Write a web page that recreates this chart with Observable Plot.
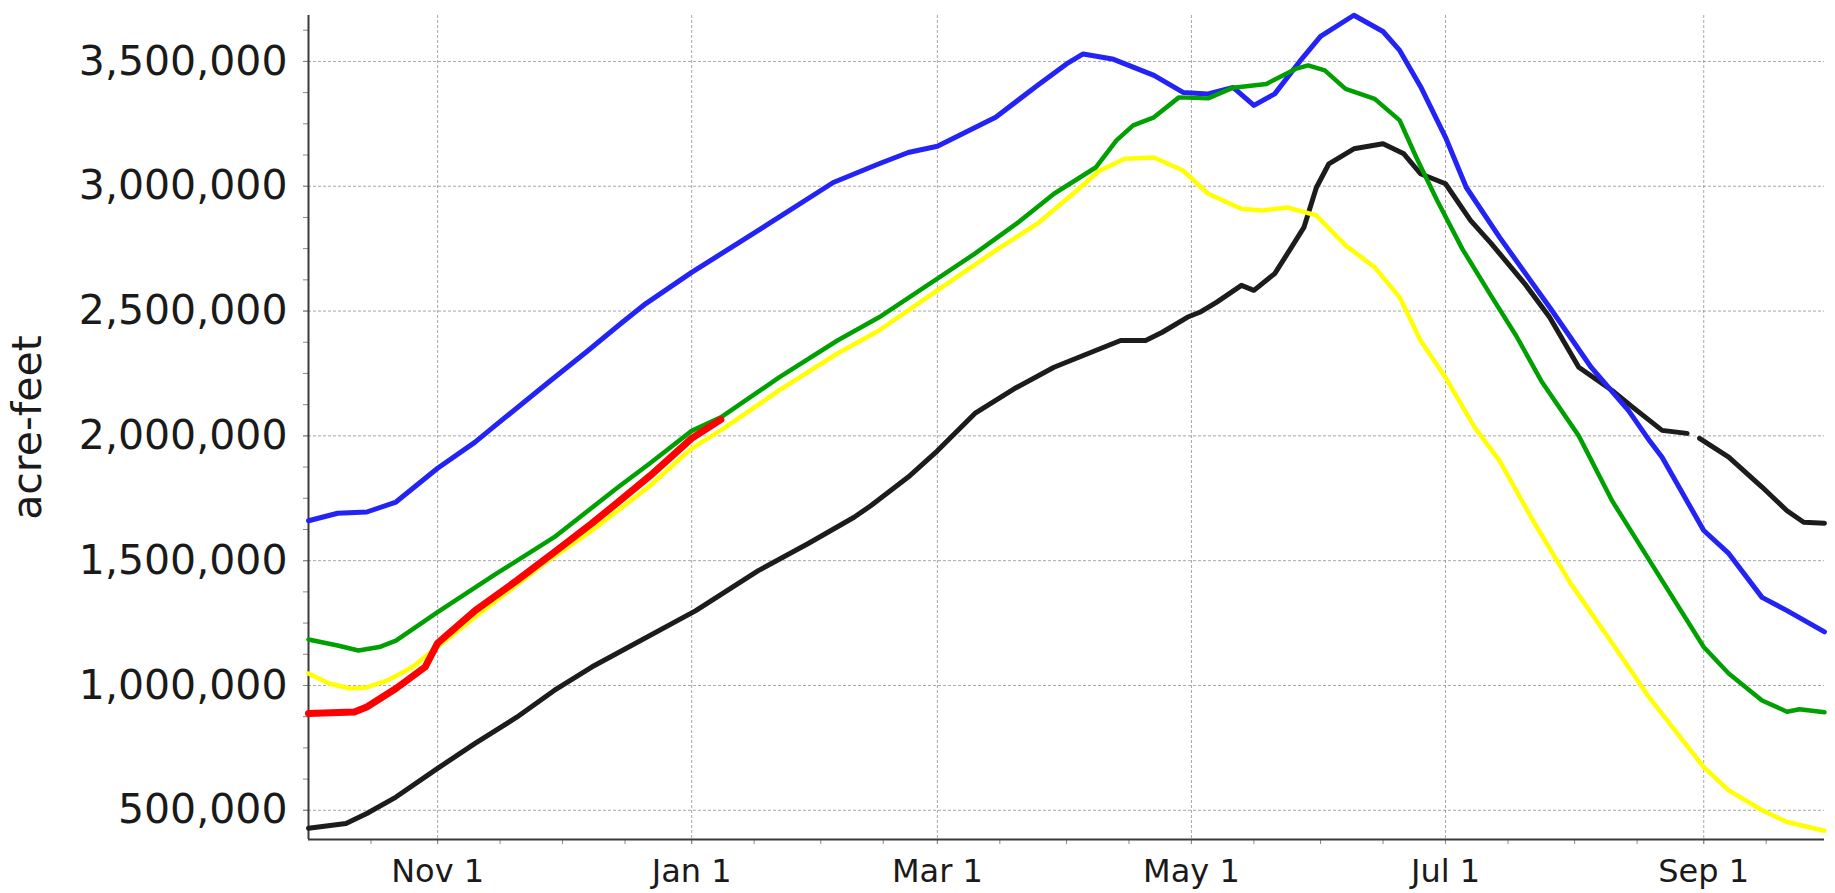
<!DOCTYPE html>
<html><head><meta charset="utf-8">
<script src="https://cdn.jsdelivr.net/npm/d3@7"></script>
<script src="https://cdn.jsdelivr.net/npm/@observablehq/plot@0.6"></script>
<style>
html,body{margin:0;padding:0;background:#fff;}
#chart{width:1835px;height:893px;overflow:hidden;}
</style></head><body><div id="chart"></div>
<script>
// ---- data (water year Oct 1 – Sep 30), values in acre-feet ----
const blueDates = ["2020-10-01","2020-10-08","2020-10-15","2020-10-22","2020-11-01","2020-11-10","2020-11-14","2020-11-28","2020-12-07","2020-12-15","2020-12-21","2021-01-01","2021-01-17","2021-02-04","2021-02-15","2021-02-22","2021-03-01","2021-03-15","2021-03-25","2021-04-01","2021-04-05","2021-04-12","2021-04-22","2021-04-29","2021-05-05","2021-05-11","2021-05-16","2021-05-21","2021-05-27","2021-06-01","2021-06-09","2021-06-16","2021-06-20","2021-06-25","2021-07-01","2021-07-06","2021-07-14","2021-07-26","2021-08-05","2021-08-14","2021-08-19","2021-08-22","2021-09-01","2021-09-07","2021-09-15","2021-09-21","2021-09-30"];
const blueValues = [1660000,1690000,1695000,1735000,1870000,1975000,2030000,2220000,2340000,2450000,2530000,2655000,2823000,3015000,3090000,3135000,3160000,3276000,3404000,3490000,3530000,3510000,3444000,3376000,3370000,3396000,3324000,3370000,3500000,3600000,3685000,3620000,3544000,3400000,3196000,2995000,2795000,2515000,2274000,2100000,1980000,1914000,1621000,1529000,1353000,1300000,1215000];

const greenDates = ["2020-10-01","2020-10-08","2020-10-13","2020-10-18","2020-10-22","2020-11-01","2020-11-15","2020-11-29","2020-12-14","2020-12-22","2021-01-01","2021-01-08","2021-01-22","2021-02-05","2021-02-15","2021-03-01","2021-03-10","2021-03-20","2021-03-29","2021-04-08","2021-04-13","2021-04-17","2021-04-22","2021-04-28","2021-05-05","2021-05-11","2021-05-19","2021-05-26","2021-05-29","2021-06-02","2021-06-07","2021-06-14","2021-06-20","2021-06-24","2021-06-29","2021-07-05","2021-07-12","2021-07-18","2021-07-24","2021-08-02","2021-08-10","2021-08-19","2021-09-01","2021-09-07","2021-09-15","2021-09-21","2021-09-24","2021-09-30"];
const greenValues = [1184000,1160000,1140000,1154000,1180000,1294000,1447000,1594000,1790000,1890000,2020000,2074000,2234000,2382000,2475000,2630000,2730000,2850000,2970000,3075000,3184000,3244000,3276000,3356000,3352000,3395000,3410000,3470000,3484000,3464000,3390000,3350000,3264000,3115000,2943000,2750000,2560000,2400000,2220000,2000000,1740000,1500000,1154000,1048000,940000,895000,905000,893000];

const yellowDates = ["2020-10-01","2020-10-06","2020-10-11","2020-10-15","2020-10-20","2020-10-26","2020-10-30","2020-11-10","2020-11-27","2020-12-08","2020-12-15","2020-12-22","2021-01-01","2021-01-08","2021-01-22","2021-02-05","2021-02-15","2021-03-01","2021-03-15","2021-03-25","2021-04-03","2021-04-09","2021-04-15","2021-04-22","2021-04-29","2021-05-05","2021-05-13","2021-05-18","2021-05-24","2021-05-31","2021-06-07","2021-06-14","2021-06-20","2021-06-25","2021-07-01","2021-07-08","2021-07-14","2021-07-22","2021-07-31","2021-08-10","2021-08-19","2021-09-01","2021-09-07","2021-09-15","2021-09-21","2021-09-30"];
const yellowValues = [1048000,1008000,988000,992000,1020000,1074000,1128000,1274000,1494000,1620000,1710000,1800000,1950000,2022000,2182000,2330000,2422000,2583000,2743000,2850000,2976000,3063000,3110000,3115000,3063000,2970000,2910000,2903000,2915000,2883000,2763000,2675000,2555000,2382000,2234000,2034000,1900000,1661000,1410000,1170000,950000,673000,580000,500000,453000,418000];

const blackDates = ["2020-10-01","2020-10-10","2020-10-15","2020-10-22","2020-11-01","2020-11-10","2020-11-20","2020-11-29","2020-12-08","2020-12-14","2021-01-02","2021-01-17","2021-01-29","2021-02-09","2021-02-13","2021-02-22","2021-03-01","2021-03-10","2021-03-20","2021-03-29","2021-04-08","2021-04-14","2021-04-20","2021-04-24","2021-04-30","2021-05-03","2021-05-07","2021-05-13","2021-05-16","2021-05-21","2021-05-25","2021-05-28","2021-05-31","2021-06-03","2021-06-09","2021-06-16","2021-06-21","2021-06-25","2021-07-01","2021-07-07","2021-07-12","2021-07-20","2021-07-26","2021-08-02","2021-08-10","2021-08-15","2021-08-22","2021-08-28","2021-08-29","2021-08-31","2021-09-07","2021-09-15","2021-09-21","2021-09-25","2021-09-30"];
const blackValues = [428000,447000,487000,553000,668000,768000,873000,980000,1074000,1128000,1300000,1460000,1569000,1674000,1720000,1835000,1940000,2090000,2194000,2275000,2342000,2382000,2382000,2415000,2475000,2495000,2535000,2603000,2583000,2650000,2755000,2835000,2995000,3090000,3150000,3170000,3130000,3050000,3010000,2863000,2770000,2610000,2475000,2275000,2182000,2114000,2022000,2010000,null,1990000,1915000,1795000,1700000,1654000,1650000];

const redDates = ["2020-10-01","2020-10-12","2020-10-15","2020-10-22","2020-10-29","2020-11-01","2020-11-10","2020-11-20","2020-11-29","2020-12-08","2020-12-14","2020-12-22","2021-01-01","2021-01-08"];
const redValues = [888000,894000,914000,988000,1074000,1170000,1300000,1420000,1534000,1649000,1730000,1840000,1990000,2065000];

// ---- ticks ----
const yMajorTicks = [500000,1000000,1500000,2000000,2500000,3000000,3500000];
const yMinorTicks = d3.range(500000, 3700000, 125000);
const xMajorTicks = ["2020-11-01","2021-01-01","2021-03-01","2021-05-01","2021-07-01","2021-09-01"];
const xDomain = ["2020-10-01","2021-09-30"];
const yDomain = [383000, 3684000];

const parse = d3.utcParse("%Y-%m-%d");
const rows = (dates, values) => dates.map((d, i) => ({date: parse(d), value: values[i]}));
const xMinor = d3.utcMonths(parse("2020-10-01"), parse("2021-10-01"))
  .flatMap(m => [m, d3.utcDay.offset(m, 15)])
  .filter(d => d > parse("2020-10-01") && d <= parse("2021-09-30"));

const font = "'DejaVu Sans', Verdana, sans-serif";
const gridStyle = {stroke: "#8a8a8a", strokeOpacity: 0.75, strokeDasharray: "3,2", strokeWidth: 1};

const chart = Plot.plot({
  width: 1835, height: 893,
  marginLeft: 308, marginRight: 11, marginTop: 15, marginBottom: 54,
  style: {fontFamily: font, background: "#fff", color: "#1a1a1a"},
  x: {type: "utc", domain: xDomain.map(parse), label: null},
  y: {domain: yDomain, label: null},
  marks: [
    Plot.gridY(yMajorTicks, gridStyle),
    Plot.gridX(xMajorTicks.map(parse), gridStyle),
    Plot.axisY(yMinorTicks, {tickSize: 5, stroke: "#888", tickFormat: () => "", label: null}),
    Plot.axisY(yMajorTicks, {tickSize: 5, tickPadding: 16, stroke: "#888", fill: "#1a1a1a",
      fontSize: 41, tickFormat: d3.format(","), label: "acre-feet", labelAnchor: "center",
      labelArrow: "none", labelOffset: 297}),
    Plot.axisX(xMinor, {tickSize: 5, stroke: "#888", tickFormat: () => "", label: null}),
    Plot.axisX(xMajorTicks.map(parse), {tickSize: 5, tickPadding: 15, stroke: "#888", fill: "#1a1a1a",
      fontSize: 32, tickFormat: d3.utcFormat("%b %-d"), label: null}),
    Plot.ruleX([parse(xDomain[0])], {stroke: "#3a3a3a", strokeWidth: 2}),
    Plot.ruleY([yDomain[0]], {stroke: "#3a3a3a", strokeWidth: 2}),
    Plot.line(rows(blackDates, blackValues), {x: "date", y: "value", stroke: "#1c1c1c", strokeWidth: 5, strokeLinejoin: "round"}),
    Plot.line(rows(blueDates, blueValues), {x: "date", y: "value", stroke: "#2323f5", strokeWidth: 5, strokeLinejoin: "round"}),
    Plot.line(rows(yellowDates, yellowValues), {x: "date", y: "value", stroke: "#ffff00", strokeWidth: 4.5, strokeLinejoin: "round"}),
    Plot.line(rows(greenDates, greenValues), {x: "date", y: "value", stroke: "#00a000", strokeWidth: 4.5, strokeLinejoin: "round"}),
    Plot.line(rows(redDates, redValues), {x: "date", y: "value", stroke: "#ff0000", strokeWidth: 7, strokeLinejoin: "round"})
  ]
});
document.getElementById("chart").append(chart);
</script>
</body></html>
